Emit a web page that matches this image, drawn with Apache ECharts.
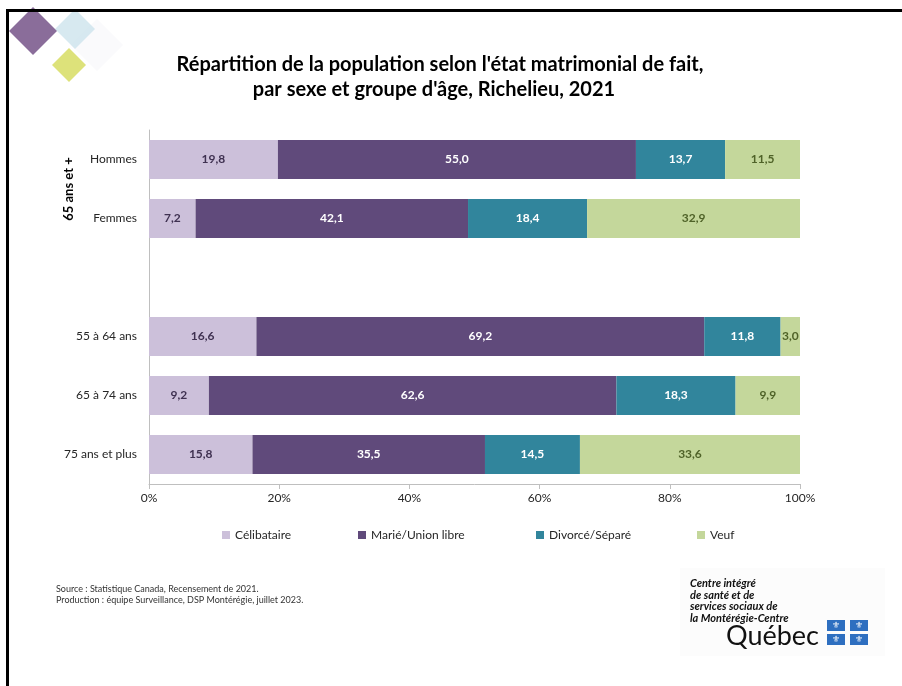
<!DOCTYPE html>
<html>
<head>
<meta charset="utf-8">
<script src="https://cdn.jsdelivr.net/npm/echarts@6/dist/echarts.min.js"></script>
<style>
html,body{margin:0;padding:0;background:#fff;}
#frame{position:absolute;left:6px;top:9px;width:896px;height:677px;border-left:3px solid #000;border-top:3px solid #000;box-sizing:border-box;}
#chart{position:absolute;left:0;top:0;width:902px;height:686px;}
</style>
</head>
<body>
<div id="chart"></div>
<div id="frame"></div>
<script>
const categories = ['Hommes', 'Femmes', '', '55 à 64 ans', '65 à 74 ans', '75 ans et plus'];
const seriesNames = ['Célibataire', 'Marié/Union libre', 'Divorcé/Séparé', 'Veuf'];
const celibataire = [19.8, 7.2, null, 16.6, 9.2, 15.8];
const marie = [55.0, 42.1, null, 69.2, 62.6, 35.5];
const divorce = [13.7, 18.4, null, 11.8, 18.3, 14.5];
const veuf = [11.5, 32.9, null, 3.0, 9.9, 33.6];
const xTicks = [0, 20, 40, 60, 80, 100];

const colors = ['#CCC0DA', '#604A7B', '#31859C', '#C4D79B'];
const labelColors = ['#3F3151', '#FFFFFF', '#FFFFFF', '#4F6228'];
const values = [celibataire, marie, divorce, veuf];
const FONT = 'Lato';

// 100% stacked bar (as in the original spreadsheet chart): each row is scaled to its own total
const rowTotals = categories.map((c, j) => values.reduce((s, arr) => s + (arr[j] == null ? 0 : arr[j]), 0));
const seriesData = values.map(arr => arr.map((v, j) => v == null ? null : {value: v / rowTotals[j] * 100, raw: v}));

const chart = echarts.init(document.getElementById('chart'), null, {renderer: 'canvas'});

function diamond(cx, cy, r, fill) {
  return {type: 'polygon', shape: {points: [[cx, cy - r], [cx + r, cy], [cx, cy + r], [cx - r, cy]], smooth: 0}, style: {fill: fill}, z: 1};
}

const flagBoxes = [[827, 620], [850, 620], [827, 634], [850, 634]];
const legendLefts = [217, 353, 531, 692];

const option = {
  animation: false,
  legend: seriesNames.map((n, i) => ({
    data: [n],
    left: legendLefts[i], top: 524,
    itemWidth: 8, itemHeight: 8, icon: 'rect',
    textStyle: {fontFamily: FONT, fontSize: 12, color: '#262626'}
  })),
  grid: {left: 149, right: 102, top: 130, bottom: 202, containLabel: false},
  xAxis: {
    type: 'value', min: 0, max: 100, interval: 20,
    axisLine: {show: true, lineStyle: {color: '#BFBFBF'}},
    axisTick: {show: true, length: 5, lineStyle: {color: '#BFBFBF'}},
    splitLine: {show: false},
    axisLabel: {formatter: v => xTicks.includes(v) ? v + '%' : '', fontFamily: FONT, fontSize: 12, color: '#262626', margin: 8}
  },
  yAxis: {
    type: 'category', data: categories, inverse: true,
    axisLine: {show: true, lineStyle: {color: '#BFBFBF'}},
    axisTick: {show: false},
    axisLabel: {fontFamily: FONT, fontSize: 12, color: '#262626', margin: 12}
  },
  series: seriesNames.map((name, i) => ({
    name: name, type: 'bar', stack: 'total', barWidth: 39,
    data: seriesData[i],
    itemStyle: {color: colors[i]},
    label: {
      show: true, position: 'inside',
      formatter: p => (p.data == null || p.data.raw == null) ? '' : p.data.raw.toFixed(1).replace('.', ','),
      fontFamily: FONT, fontSize: 12, fontWeight: 'bold', color: labelColors[i]
    }
  })),
  graphic: [
    diamond(97, 45, 26, '#FAFAFC'),
    diamond(75, 29, 20, 'rgba(205,228,236,0.8)'),
    diamond(33, 31, 24, 'rgba(125,93,143,0.9)'),
    diamond(69, 65, 17, '#DDE27A'),
    {type: 'text', x: 440, y: 65, z: 10,
      style: {text: "Répartition de la population selon l'état matrimonial de fait,", font: 'bold 20px Lato', fill: '#000', textAlign: 'center', textVerticalAlign: 'middle'}},
    {type: 'text', x: 434, y: 90, z: 10,
      style: {text: "par sexe et groupe d'âge, Richelieu, 2021", font: 'bold 20px Lato', fill: '#000', textAlign: 'center', textVerticalAlign: 'middle'}},
    {type: 'text', x: 69, y: 189, rotation: Math.PI / 2, z: 10,
      style: {text: '65 ans et +', font: 'bold 13px Lato', fill: '#000', textAlign: 'center', textVerticalAlign: 'middle'}},
    {type: 'text', left: 56, top: 584,
      style: {text: 'Source : Statistique Canada, Recensement de 2021.\nProduction : équipe Surveillance, DSP Montérégie, juillet 2023.', font: '9px Lato', fill: '#333', lineHeight: 11}},
    {type: 'rect', shape: {x: 680, y: 568, width: 205, height: 88}, style: {fill: '#FCFCFC'}, z: 0},
    {type: 'text', left: 690, top: 578,
      style: {text: 'Centre intégré\nde santé et de\nservices sociaux de\nla Montérégie-Centre', font: 'italic bold 11px Lato', fill: '#111', lineHeight: 11.5}},
    {type: 'text', left: 726, top: 623,
      style: {text: 'Québec', font: '27px Lato', fill: '#111'}},
    ...flagBoxes.map(b => ({type: 'rect', shape: {x: b[0], y: b[1], width: 18, height: 11}, style: {fill: '#2E6FC0'}})),
    ...flagBoxes.map(b => ({type: 'text', style: {text: '⚜', font: '9px DejaVu Sans', fill: '#fff', x: b[0] + 9, y: b[1] + 6, textAlign: 'center', textVerticalAlign: 'middle'}, z: 5}))
  ]
};
chart.setOption(option);
</script>
</body>
</html>
